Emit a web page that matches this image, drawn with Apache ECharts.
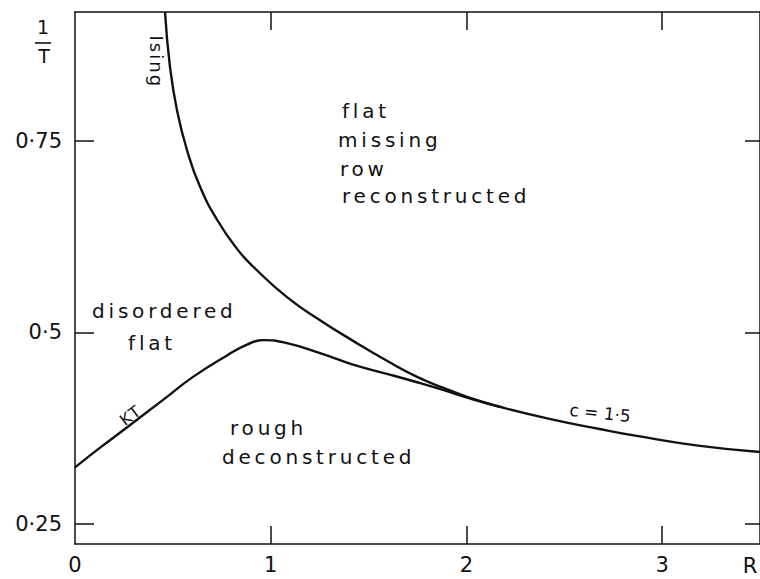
<!DOCTYPE html>
<html>
<head>
<meta charset="utf-8">
<script src="https://cdn.jsdelivr.net/npm/echarts@6/dist/echarts.min.js"></script>
<style>
  html, body { margin: 0; padding: 0; background: #fff; }
  #chart { width: 760px; height: 579px; }
  /* spaced lettering for the phase-region names */
  #chart text[style*="sans-serif"] { letter-spacing: 3.8px; }
  #chart text[style*="monospace"] { letter-spacing: 2px; }
</style>
</head>
<body>
<div id="chart"></div>
<script>
// Ising transition line (R, 1/T)
const isingR = [0.46, 0.485, 0.521, 0.572, 0.639, 0.726, 0.828, 0.91, 1.083, 1.252, 1.421, 1.594, 1.748, 1.88, 2.003, 2.17];
const isingT = [0.918, 0.847, 0.79, 0.738, 0.69, 0.647, 0.609, 0.586, 0.546, 0.516, 0.489, 0.463, 0.442, 0.428, 0.416, 0.403];

// KT line, continuing as the c = 1.5 line
const ktR = [0, 0.13, 0.27, 0.45, 0.603, 0.777, 0.879, 0.961, 1.083, 1.252, 1.421, 1.594, 1.748, 1.88, 2.003, 2.17, 2.43, 2.68, 2.87, 3.194, 3.5];
const ktT = [0.324, 0.35, 0.377, 0.412, 0.442, 0.47, 0.484, 0.49, 0.486, 0.473, 0.458, 0.446, 0.435, 0.425, 0.415, 0.403, 0.387, 0.374, 0.365, 0.352, 0.344];

// axis ticks
const xTicks = [1, 2, 3];
const xTickLabels = [0, 1, 2, 3];
const yTicks = [0.25, 0.5, 0.75];

const pairs = (xs, ys) => xs.map((x, i) => [x, ys[i]]);
const dotted = v => String(v).replace('.', '\u00b7');

const chart = echarts.init(document.getElementById('chart'), null, { renderer: 'svg' });

const axisLine = { show: true, onZero: false, lineStyle: { color: '#111', width: 1.5 } };
const tickStyle = { color: '#111', width: 1.5 };
const labelFont = { color: '#111', fontSize: 21, fontFamily: 'DejaVu Sans' };

chart.setOption({
  animation: false,
  backgroundColor: '#fff',
  grid: { left: 75, right: 0, top: 12, bottom: 35, containLabel: false },
  xAxis: [
    {
      type: 'value', position: 'bottom', min: 0, max: 3.5,
      axisLine,
      axisTick: { show: true, inside: true, length: 18, lineStyle: tickStyle, customValues: xTicks },
      axisLabel: Object.assign({ show: true, margin: 10, customValues: xTickLabels }, labelFont),
      splitLine: { show: false }
    },
    {
      type: 'value', position: 'top', min: 0, max: 3.5,
      axisLine,
      axisTick: { show: true, inside: true, length: 18, lineStyle: tickStyle, customValues: xTicks },
      axisLabel: { show: false },
      splitLine: { show: false }
    }
  ],
  yAxis: [
    {
      type: 'value', position: 'left', min: 0.224, max: 0.918,
      axisLine,
      axisTick: { show: true, inside: true, length: 19, lineStyle: tickStyle, customValues: yTicks },
      axisLabel: Object.assign({ show: true, margin: 13, customValues: yTicks, formatter: dotted }, labelFont),
      splitLine: { show: false }
    },
    {
      type: 'value', position: 'right', min: 0.224, max: 0.918,
      axisLine,
      axisTick: { show: true, inside: true, length: 15, lineStyle: tickStyle, customValues: yTicks },
      axisLabel: { show: false },
      splitLine: { show: false }
    }
  ],
  series: [
    {
      name: 'Ising', type: 'line', data: pairs(isingR, isingT),
      showSymbol: false, smooth: 0.5, clip: true,
      lineStyle: { color: '#111', width: 2.4 }
    },
    {
      name: 'KT', type: 'line', data: pairs(ktR, ktT),
      showSymbol: false, smooth: 0.5, clip: true,
      lineStyle: { color: '#111', width: 2.4 }
    }
  ]
});

// annotations placed in data coordinates
const region = 'DejaVu Sans, sans-serif';
const small = 'DejaVu Sans, monospace';
const notes = [
  { t: 'flat', at: [1.364, 0.789], align: 'left', size: 20, fam: region },
  { t: 'missing', at: [1.344, 0.751], align: 'left', size: 20, fam: region },
  { t: 'row', at: [1.354, 0.713], align: 'left', size: 20, fam: region },
  { t: 'reconstructed', at: [1.364, 0.678], align: 'left', size: 20, fam: region },
  { t: 'disordered', at: [0.087, 0.528], align: 'left', size: 20, fam: region },
  { t: 'flat', at: [0.271, 0.486], align: 'left', size: 20, fam: region },
  { t: 'rough', at: [0.792, 0.375], align: 'left', size: 20, fam: region },
  { t: 'deconstructed', at: [0.751, 0.337], align: 'left', size: 20, fam: region },
  { t: 'KT', at: [0.286, 0.392], align: 'center', size: 16, fam: small, rot: 37 },
  { t: 'Ising', at: [0.414, 0.853], align: 'center', size: 18, fam: small, rot: -90 },
  { t: 'c = 1\u00b75', at: [2.683, 0.395], align: 'center', size: 17, fam: 'DejaVu Sans', rot: -6 }
];

const graphic = notes.map(n => {
  const p = chart.convertToPixel({ xAxisIndex: 0, yAxisIndex: 0 }, n.at);
  return {
    type: 'text', x: p[0], y: p[1], rotation: (n.rot || 0) * Math.PI / 180,
    style: {
      text: n.t, fill: '#111', fontSize: n.size, fontFamily: n.fam,
      align: n.align, verticalAlign: 'middle'
    }
  };
});

// 1/T axis title and R axis title
graphic.push(
  { type: 'text', x: 43, y: 27, style: { text: '1', fill: '#111', fontSize: 19, fontFamily: 'DejaVu Sans', align: 'center', verticalAlign: 'middle' } },
  { type: 'line', shape: { x1: 35, y1: 43, x2: 51, y2: 43 }, style: { stroke: '#111', lineWidth: 1.6 } },
  { type: 'text', x: 44, y: 56, style: { text: 'T', fill: '#111', fontSize: 19, fontFamily: 'DejaVu Sans', align: 'center', verticalAlign: 'middle' } },
  { type: 'text', x: 750, y: 566, style: { text: 'R', fill: '#111', fontSize: 21, fontFamily: 'DejaVu Sans', align: 'center', verticalAlign: 'middle' } }
);

chart.setOption({ graphic });
</script>
</body>
</html>
